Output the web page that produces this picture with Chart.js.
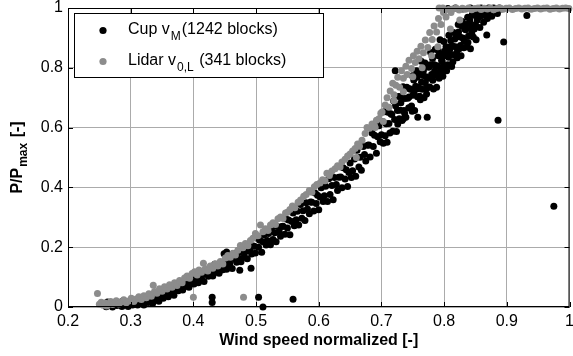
<!DOCTYPE html>
<html>
<head>
    <title>Power curve - cup vs lidar</title>
    <script src="https://cdn.jsdelivr.net/npm/chart.js"></script>
    <style>
        body { margin: 0; background: #fff; }
        #curve { display: block; }
    </style>
</head>
<body>
    <canvas id="curve" width="573" height="356"></canvas>

    <script>
        // Axis ticks
        const xTicks = [0.2, 0.3, 0.4, 0.5, 0.6, 0.7, 0.8, 0.9, 1];
        const yTicks = [0, 0.2, 0.4, 0.6, 0.8, 1];

        // Cup anemometer blocks: [normalized wind speed, P/Pmax]
        const cupPoints = [
            // 0.25 - 0.33
            [0.258,0.011],[0.261,0.001],[0.263,0.017],[0.266,0.007],[0.268,0.014],[0.271,0.0],[0.273,0.010],[0.276,0.017],
            [0.278,0.005],[0.281,0.009],[0.283,0.016],[0.286,0.002],[0.288,0.021],[0.291,0.007],[0.293,0.013],[0.296,0.002],
            [0.298,0.019],[0.301,0.012],[0.303,0.007],[0.306,0.017],[0.308,0.017],[0.311,0.007],[0.313,0.024],[0.316,0.014],
            [0.318,0.021],[0.321,0.007],[0.323,0.019],[0.326,0.027],[0.328,0.015],[0.331,0.020],
            // 0.33 - 0.40
            [0.333,0.034],[0.335,0.012],[0.338,0.044],[0.340,0.024],[0.343,0.035],[0.345,0.019],[0.347,0.046],[0.350,0.037],
            [0.352,0.029],[0.355,0.047],[0.357,0.048],[0.360,0.034],[0.362,0.061],[0.364,0.046],[0.367,0.061],[0.369,0.039],
            [0.371,0.059],[0.374,0.073],[0.376,0.054],[0.379,0.063],[0.381,0.078],[0.383,0.057],[0.386,0.089],[0.388,0.069],
            [0.391,0.081],[0.393,0.066],[0.396,0.095],[0.398,0.086],
            // 0.40 - 0.45
            [0.401,0.077],[0.403,0.099],[0.406,0.100],[0.408,0.081],[0.410,0.115],[0.413,0.097],[0.415,0.113],[0.417,0.085],
            [0.420,0.110],[0.422,0.126],[0.424,0.103],[0.427,0.114],[0.429,0.130],[0.431,0.104],[0.434,0.143],[0.436,0.117],
            [0.438,0.131],[0.441,0.113],[0.443,0.147],[0.445,0.135],[0.447,0.125],[0.449,0.147],
            // 0.45 - 0.50
            [0.451,0.149],[0.453,0.126],[0.455,0.169],[0.458,0.145],[0.460,0.165],[0.462,0.129],[0.465,0.161],[0.467,0.180],
            [0.469,0.150],[0.472,0.164],[0.474,0.184],[0.476,0.151],[0.479,0.200],[0.481,0.167],[0.483,0.185],[0.486,0.161],
            [0.488,0.203],[0.490,0.188],[0.493,0.177],[0.495,0.204],[0.497,0.203],[0.499,0.181],
            // 0.50 - 0.55
            [0.502,0.230],[0.504,0.200],[0.506,0.223],[0.509,0.183],[0.511,0.218],[0.513,0.242],[0.516,0.207],[0.518,0.222],
            [0.520,0.246],[0.523,0.208],[0.525,0.265],[0.527,0.226],[0.530,0.248],[0.532,0.218],[0.534,0.269],[0.537,0.252],
            [0.539,0.237],[0.541,0.269],[0.543,0.270],[0.546,0.243],[0.548,0.294],[0.550,0.264],
            // 0.55 - 0.60
            [0.552,0.291],[0.554,0.242],[0.557,0.286],[0.559,0.314],[0.561,0.272],[0.564,0.292],[0.566,0.320],[0.568,0.274],
            [0.571,0.343],[0.573,0.297],[0.575,0.322],[0.578,0.289],[0.580,0.349],[0.582,0.328],[0.585,0.312],[0.587,0.351],
            [0.589,0.350],[0.592,0.321],[0.594,0.381],[0.596,0.346],[0.598,0.374],[0.600,0.325],
            // 0.60 - 0.65
            [0.602,0.368],[0.604,0.399],[0.607,0.353],[0.609,0.372],[0.611,0.404],[0.614,0.353],[0.616,0.429],[0.618,0.376],
            [0.621,0.406],[0.623,0.359],[0.625,0.433],[0.628,0.410],[0.630,0.390],[0.632,0.434],[0.635,0.435],[0.637,0.399],
            [0.639,0.466],[0.642,0.428],[0.644,0.459],[0.646,0.403],[0.648,0.450],[0.650,0.482],
            // 0.65 - 0.70
            [0.652,0.433],[0.654,0.456],[0.657,0.495],[0.659,0.437],[0.661,0.524],[0.664,0.468],[0.666,0.501],[0.668,0.457],
            [0.671,0.537],[0.673,0.510],[0.675,0.488],[0.678,0.541],[0.680,0.542],[0.682,0.502],[0.685,0.582],[0.687,0.537],
            [0.689,0.574],[0.692,0.514],[0.694,0.569],[0.696,0.606],[0.698,0.553],[0.700,0.576],
            // 0.70 - 0.75
            [0.7015,0.620],[0.703,0.548],[0.7045,0.653],[0.706,0.573],[0.7075,0.613],[0.709,0.551],[0.7105,0.651],[0.712,0.614],
            [0.7135,0.582],[0.715,0.646],[0.7165,0.644],[0.718,0.588],[0.7195,0.689],[0.721,0.627],[0.7225,0.673],[0.724,0.587],
            [0.7255,0.657],[0.727,0.704],[0.7285,0.630],[0.730,0.658],[0.7315,0.704],[0.733,0.624],[0.7345,0.737],[0.736,0.657],
            [0.7375,0.697],[0.739,0.635],[0.7405,0.735],[0.742,0.698],[0.7435,0.666],[0.745,0.730],[0.7465,0.728],[0.748,0.672],
            [0.7495,0.773],[0.750,0.708],
            // 0.75 - 0.80
            [0.7515,0.759],[0.753,0.657],[0.7545,0.738],[0.756,0.790],[0.7575,0.703],[0.759,0.735],[0.7605,0.787],[0.762,0.693],
            [0.7635,0.822],[0.765,0.728],[0.7665,0.774],[0.768,0.700],[0.7695,0.816],[0.771,0.770],[0.7725,0.732],[0.774,0.806],
            [0.7755,0.802],[0.777,0.736],[0.7785,0.851],[0.780,0.778],[0.7815,0.831],[0.783,0.729],[0.7845,0.810],[0.786,0.862],
            [0.7875,0.775],[0.789,0.807],[0.7905,0.859],[0.792,0.765],[0.7935,0.894],[0.795,0.800],[0.7965,0.846],[0.798,0.772],
            [0.7995,0.888],[0.800,0.840],
            // 0.80 - 0.85
            [0.8015,0.807],[0.803,0.870],[0.8045,0.867],[0.806,0.810],[0.8075,0.909],[0.809,0.846],[0.8105,0.891],[0.812,0.804],
            [0.8135,0.873],[0.815,0.918],[0.8165,0.843],[0.818,0.870],[0.8195,0.915],[0.821,0.834],[0.8225,0.945],[0.824,0.864],
            [0.8255,0.903],[0.827,0.840],[0.8285,0.939],[0.830,0.900],[0.8315,0.867],[0.833,0.930],[0.8345,0.927],[0.836,0.870],
            [0.8375,0.969],[0.839,0.906],[0.8405,0.951],[0.842,0.864],[0.8435,0.933],[0.845,0.978],[0.8465,0.903],[0.848,0.930],
            [0.8495,0.975],[0.851,0.894],
            // extra blocks filling the upper cloud
            [0.726,0.612],[0.731,0.683],[0.737,0.648],[0.744,0.702],[0.749,0.655],[0.752,0.720],[0.757,0.768],[0.761,0.705],
            [0.764,0.752],[0.767,0.790],[0.772,0.712],[0.775,0.765],[0.778,0.810],[0.782,0.758],[0.785,0.790],[0.788,0.735],
            [0.791,0.840],[0.794,0.786],[0.797,0.820],[0.801,0.856],[0.804,0.790],[0.807,0.835],[0.811,0.872],[0.814,0.820],
            [0.817,0.896],[0.820,0.850],[0.823,0.920],[0.826,0.875],[0.829,0.955],[0.832,0.890],[0.835,0.945],[0.838,0.885],
            [0.841,0.960],[0.844,0.915],[0.847,0.990],[0.850,0.945],[0.856,0.970],[0.862,0.985],[0.758,0.730],[0.770,0.750],
            [0.783,0.780],[0.796,0.825],[0.809,0.860],[0.800,0.790],
            // 0.85 - 0.89 and plateau
            [0.853,0.960],[0.855,0.990],[0.857,0.935],[0.859,1.0],[0.861,0.975],[0.863,0.952],[0.865,0.995],[0.867,0.980],
            [0.869,0.965],[0.871,1.0],[0.874,0.988],[0.876,0.972],[0.879,1.0],[0.882,0.993],[0.885,0.982],[0.888,1.0],
            [0.891,0.997],[0.806,0.998],[0.818,1.0],[0.830,0.997],[0.842,1.0],
            // scattered blocks
            [0.868,0.910],[0.895,0.886],[0.932,0.975],[0.886,0.625],[0.975,0.337],[0.722,0.790],[0.735,0.630],[0.758,0.635],
            [0.773,0.635],[0.430,0.033],[0.430,0.015],[0.504,0.033],[0.511,0.0],[0.559,0.026],[0.449,0.178],[0.453,0.184],
            [0.456,0.176],[0.474,0.123],[0.492,0.130]
        ];

        // Lidar blocks: [normalized wind speed, P/Pmax]
        const lidarPoints = [
            [0.247,0.045],[0.250,0.009],[0.253,0.016],[0.256,0.006],[0.259,0.013],[0.262,0.003],[0.265,0.011],[0.268,0.018],
            [0.271,0.008],[0.274,0.014],[0.277,0.021],[0.281,0.010],[0.285,0.017],[0.289,0.024],[0.293,0.014],[0.297,0.020],
            [0.301,0.029],[0.305,0.018],[0.309,0.027],[0.313,0.034],[0.317,0.025],[0.321,0.038],[0.325,0.031],[0.329,0.044],
            [0.333,0.036],[0.336,0.073],[0.338,0.052],[0.342,0.046],[0.346,0.061],[0.350,0.053],[0.354,0.068],[0.358,0.060],
            [0.362,0.074],[0.366,0.066],[0.370,0.081],[0.374,0.072],[0.378,0.089],[0.382,0.081],[0.386,0.097],[0.390,0.104],
            [0.394,0.096],[0.398,0.112],[0.402,0.118],[0.406,0.107],[0.409,0.124],[0.413,0.116],[0.416,0.146],[0.419,0.128],
            [0.423,0.120],[0.427,0.137],[0.431,0.130],[0.435,0.145],[0.439,0.137],[0.443,0.152],[0.447,0.144],[0.451,0.164],
            [0.455,0.172],[0.459,0.166],[0.463,0.180],[0.467,0.174],[0.471,0.190],[0.475,0.206],[0.479,0.198],[0.483,0.212],
            [0.487,0.205],[0.491,0.222],[0.495,0.230],[0.499,0.246],[0.503,0.238],[0.507,0.274],[0.511,0.252],[0.515,0.262],
            [0.519,0.256],[0.523,0.274],[0.527,0.282],[0.531,0.276],[0.535,0.295],[0.539,0.301],[0.543,0.296],[0.547,0.314],
            [0.550,0.317],[0.554,0.326],[0.558,0.338],[0.562,0.332],[0.567,0.350],[0.571,0.358],[0.576,0.370],[0.580,0.376],
            [0.585,0.390],[0.589,0.384],[0.593,0.402],[0.597,0.410],[0.602,0.415],[0.606,0.426],[0.610,0.422],[0.613,0.447],
            [0.617,0.440],[0.621,0.455],[0.626,0.462],[0.630,0.472],[0.634,0.468],[0.637,0.485],[0.642,0.494],[0.646,0.505],
            [0.650,0.512],[0.654,0.522],[0.658,0.530],[0.662,0.545],[0.665,0.538],[0.669,0.558],[0.674,0.580],[0.677,0.600],
            [0.681,0.598],[0.685,0.612],[0.689,0.605],[0.692,0.625],[0.696,0.630],[0.699,0.648],
            // 0.70 - 0.81
            [0.701,0.652],[0.703,0.620],[0.706,0.676],[0.709,0.700],[0.712,0.668],[0.714,0.722],[0.718,0.748],[0.720,0.710],
            [0.723,0.742],[0.726,0.768],[0.729,0.735],[0.732,0.790],[0.735,0.765],[0.739,0.805],[0.741,0.778],[0.744,0.825],
            [0.748,0.798],[0.751,0.840],[0.754,0.818],[0.757,0.855],[0.760,0.830],[0.763,0.872],[0.767,0.850],[0.770,0.893],
            [0.774,0.868],[0.777,0.918],[0.781,0.895],[0.784,0.940],[0.788,0.920],[0.791,0.965],[0.795,0.945],[0.799,0.985],
            [0.803,0.970],[0.807,0.995],[0.811,0.985],[0.792,1.0],[0.798,1.0],
            // mixed into the cup band
            [0.720,0.690],[0.735,0.720],[0.750,0.770],[0.765,0.800],[0.780,0.840],[0.790,0.870],[0.810,0.930],[0.825,0.960],
            [0.690,0.600],[0.660,0.500],
            // rated power plateau
            [0.814,0.997],[0.819,1.0],[0.824,0.993],[0.829,0.999],[0.834,0.996],[0.839,1.0],[0.844,0.994],[0.849,0.998],
            [0.854,1.0],[0.859,0.995],[0.864,0.999],[0.869,0.997],[0.874,1.0],[0.879,0.994],[0.884,0.998],[0.889,1.0],
            [0.894,0.996],[0.899,0.999],[0.904,1.0],[0.909,0.995],[0.914,0.998],[0.919,1.0],[0.924,0.997],[0.929,0.999],
            [0.934,1.0],[0.939,0.996],[0.944,0.998],[0.949,1.0],[0.954,0.997],[0.959,0.999],[0.964,1.0],[0.969,0.996],
            [0.974,0.998],[0.979,1.0],[0.984,0.997],[0.989,0.999],[0.994,1.0],[0.999,0.998],
            [0.400,0.033],[0.480,0.033]
        ];

        const cupLabel = ['Cup v', 'M', '(1242 blocks)'];
        const lidarLabel = ['Lidar v', '0,L', ' (341 blocks)'];
        const cupColor = '#000000';
        const lidarColor = '#8c8c8c';

        const FONT = '"Liberation Sans", Arial, Helvetica, sans-serif';
        const toXY = pts => pts.map(p => ({ x: p[0], y: p[1] }));

        // draws "main" + subscript + "rest" starting at x on baseline y
        function subText(ctx, x, y, parts, size, bold, subDrop) {
            const w = bold ? 'bold ' : '';
            ctx.font = w + size + 'px ' + FONT;
            ctx.fillText(parts[0], x, y);
            x += ctx.measureText(parts[0]).width + 1;
            ctx.font = w + Math.round(size * 0.75) + 'px ' + FONT;
            ctx.fillText(parts[1], x, y + subDrop);
            x += ctx.measureText(parts[1]).width + 1;
            ctx.font = w + size + 'px ' + FONT;
            ctx.fillText(parts[2], x, y);
        }
        function subWidth(ctx, parts, size, bold) {
            const w = bold ? 'bold ' : '';
            ctx.font = w + size + 'px ' + FONT;
            let total = ctx.measureText(parts[0]).width + ctx.measureText(parts[2]).width + 2;
            ctx.font = w + Math.round(size * 0.75) + 'px ' + FONT;
            return total + ctx.measureText(parts[1]).width;
        }

        const decorations = {
            id: 'decorations',
            afterDraw(chart) {
                const ctx = chart.ctx;
                const a = chart.chartArea;
                const xs = chart.scales.x, ys = chart.scales.y;
                ctx.save();

                // axes box
                ctx.strokeStyle = '#000';
                ctx.lineWidth = 1;
                ctx.strokeRect(a.left + 0.5, a.top + 0.5, a.right - a.left - 1, a.bottom - a.top - 1);

                // inner tick marks on all sides
                ctx.beginPath();
                xTicks.forEach(v => {
                    const px = Math.round(xs.getPixelForValue(v)) + 0.5;
                    ctx.moveTo(px, a.bottom); ctx.lineTo(px, a.bottom - 5);
                    ctx.moveTo(px, a.top); ctx.lineTo(px, a.top + 5);
                });
                yTicks.forEach(v => {
                    const py = Math.round(ys.getPixelForValue(v)) + 0.5;
                    ctx.moveTo(a.left, py); ctx.lineTo(a.left + 5, py);
                    ctx.moveTo(a.right, py); ctx.lineTo(a.right - 5, py);
                });
                ctx.stroke();

                // legend
                ctx.fillStyle = '#fff';
                ctx.fillRect(74, 13, 249, 64);
                ctx.strokeRect(74.5, 13.5, 249, 64);
                ctx.fillStyle = cupColor;
                ctx.beginPath(); ctx.arc(103, 30.5, 3.6, 0, Math.PI * 2); ctx.fill();
                ctx.textBaseline = 'alphabetic';
                ctx.textAlign = 'left';
                subText(ctx, 128, 34, cupLabel, 16, false, 6);
                ctx.fillStyle = lidarColor;
                ctx.beginPath(); ctx.arc(103, 61.5, 3.6, 0, Math.PI * 2); ctx.fill();
                ctx.fillStyle = '#000';
                subText(ctx, 128, 65, lidarLabel, 16, false, 6);

                // x axis title
                ctx.font = 'bold 16px ' + FONT;
                ctx.textAlign = 'center';
                ctx.textBaseline = 'middle';
                ctx.fillText('Wind speed normalized [-]', (a.left + a.right) / 2, 341);

                // y axis title, rotated
                const yParts = ['P/P', 'max', ' [-]'];
                const tw = subWidth(ctx, yParts, 16, true);
                ctx.translate(22, (a.top + a.bottom) / 2);
                ctx.rotate(-Math.PI / 2);
                ctx.textAlign = 'left';
                ctx.textBaseline = 'alphabetic';
                subText(ctx, -tw / 2, 0, yParts, 16, true, 5);

                ctx.restore();
            }
        };

        const ctx = document.getElementById('curve').getContext('2d');
        new Chart(ctx, {
            type: 'scatter',
            data: {
                datasets: [
                    {
                        label: 'Cup',
                        data: toXY(cupPoints),
                        backgroundColor: cupColor,
                        pointRadius: 3.5,
                        pointBorderWidth: 0,
                        pointHoverRadius: 3.5,
                        clip: false,
                        order: 2
                    },
                    {
                        label: 'Lidar',
                        data: toXY(lidarPoints),
                        backgroundColor: lidarColor,
                        pointRadius: 3.5,
                        pointBorderWidth: 0,
                        pointHoverRadius: 3.5,
                        clip: false,
                        order: 1
                    }
                ]
            },
            options: {
                responsive: false,
                animation: false,
                devicePixelRatio: 1,
                layout: { padding: { top: 8, right: 3, left: 0, bottom: 0 } },
                plugins: {
                    legend: { display: false },
                    tooltip: { enabled: false }
                },
                scales: {
                    x: {
                        type: 'linear',
                        min: 0.2,
                        max: 1,
                        afterBuildTicks: s => { s.ticks = xTicks.map(v => ({ value: v })); },
                        afterFit: s => { s.height = 49; s.paddingLeft = 0; s.paddingRight = 0; },
                        grid: { color: '#ababab', drawTicks: false },
                        border: { display: false },
                        ticks: {
                            padding: 5,
                            color: '#000',
                            font: { family: FONT, size: 16 },
                            maxRotation: 0,
                            callback: v => String(+v.toFixed(1))
                        }
                    },
                    y: {
                        type: 'linear',
                        min: 0,
                        max: 1,
                        afterBuildTicks: s => { s.ticks = yTicks.map(v => ({ value: v })); },
                        afterFit: s => { s.width = 68; s.paddingTop = 0; s.paddingBottom = 0; },
                        grid: { color: '#ababab', drawTicks: false },
                        border: { display: false },
                        ticks: {
                            padding: 5,
                            color: '#000',
                            font: { family: FONT, size: 16 },
                            callback: v => String(+v.toFixed(1))
                        }
                    }
                }
            },
            plugins: [decorations]
        });
    </script>
</body>
</html>
